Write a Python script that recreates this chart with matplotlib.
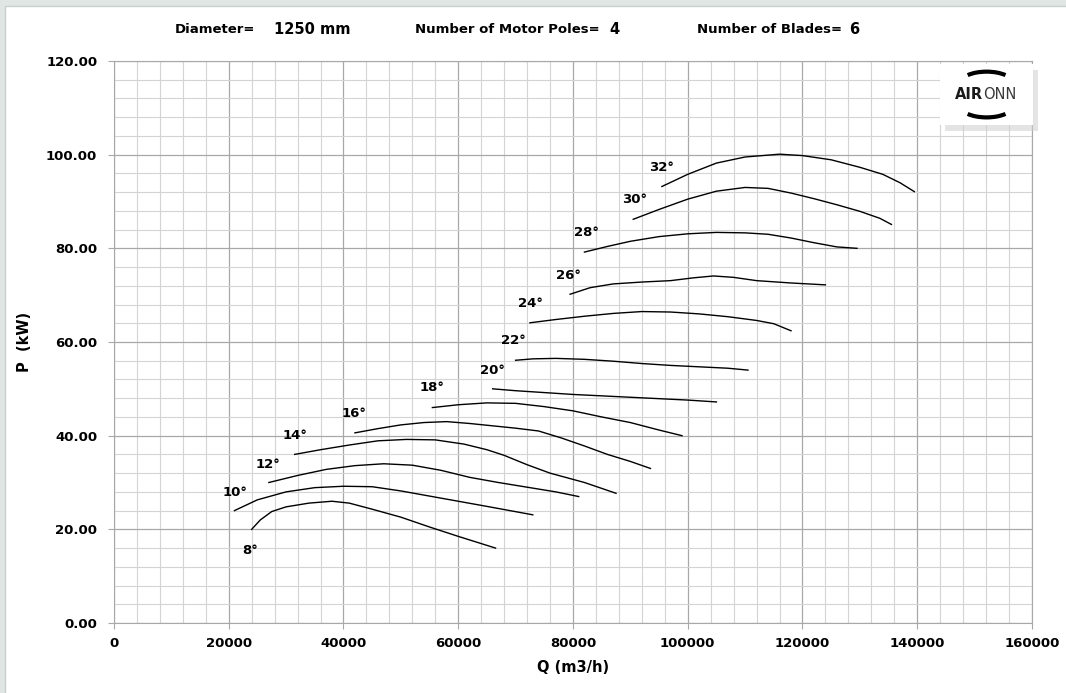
import numpy as np
import matplotlib.pyplot as plt
from matplotlib.patches import FancyBboxPatch, Arc
from matplotlib.ticker import MultipleLocator, FormatStrFormatter

# Blade angle curves: Q (m3/h) vs P (kW)
q8 = [24000, 25500, 27500, 30000, 34000, 38000, 41000, 45000, 50000, 55000, 60000, 66500]
p8 = [20.0, 22.0, 23.8, 24.8, 25.6, 26.0, 25.6, 24.3, 22.6, 20.5, 18.5, 16.0]
q10 = [21000, 25000, 30000, 35000, 40000, 45000, 50000, 55000, 60000, 65000, 73000]
p10 = [24.0, 26.3, 28.0, 28.9, 29.2, 29.1, 28.2, 27.1, 26.0, 24.9, 23.1]
q12 = [27000, 32000, 37000, 42000, 47000, 52000, 57000, 62000, 67000, 72000, 77000, 81000]
p12 = [30.0, 31.5, 32.8, 33.6, 34.0, 33.7, 32.6, 31.1, 30.0, 29.0, 28.0, 27.0]
q14 = [31500, 36000, 41000, 46000, 51000, 56000, 61000, 65000, 68000, 72000, 76000, 82000, 87500]
p14 = [36.0, 37.0, 38.0, 38.9, 39.2, 39.1, 38.2, 37.0, 35.8, 33.8, 32.0, 30.0, 27.7]
q16 = [42000, 46000, 50000, 54000, 58000, 62000, 66000, 70000, 74000, 78000, 82000, 86000, 90000, 93500]
p16 = [40.6, 41.5, 42.3, 42.8, 43.0, 42.6, 42.1, 41.6, 41.0, 39.5, 37.8, 36.0, 34.5, 33.0]
q18 = [55500, 60000, 65000, 70000, 75000, 80000, 85000, 90000, 95000, 99000]
p18 = [46.0, 46.6, 47.0, 46.9, 46.2, 45.3, 44.0, 42.8, 41.2, 40.0]
q20 = [66000, 70000, 75000, 80000, 85000, 90000, 95000, 100000, 105000]
p20 = [50.0, 49.6, 49.2, 48.8, 48.5, 48.2, 47.9, 47.6, 47.2]
q22 = [70000, 73000, 77000, 82000, 87000, 92000, 97000, 102000, 107000, 110500]
p22 = [56.1, 56.4, 56.5, 56.3, 55.9, 55.4, 55.0, 54.7, 54.4, 54.0]
q24 = [72500, 77000, 82000, 87000, 92000, 97000, 102000, 107000, 112000, 115000, 118000]
p24 = [64.1, 64.8, 65.5, 66.1, 66.5, 66.4, 66.0, 65.4, 64.6, 63.9, 62.4]
q26 = [79500, 83000, 87000, 92000, 97000, 101000, 104500, 108000, 112000, 118000, 124000]
p26 = [70.2, 71.6, 72.4, 72.8, 73.1, 73.7, 74.1, 73.8, 73.1, 72.6, 72.2]
q28 = [82000, 86000, 90000, 95000, 100000, 105000, 110000, 114000, 118000, 122000, 126000, 129500]
p28 = [79.2, 80.4, 81.5, 82.5, 83.1, 83.4, 83.3, 83.0, 82.2, 81.2, 80.3, 80.0]
q30 = [90500, 95000, 100000, 105000, 110000, 114000, 118000, 122000, 126000, 130000, 133500, 135500]
p30 = [86.2, 88.3, 90.5, 92.2, 93.0, 92.8, 91.8, 90.6, 89.3, 87.9, 86.4, 85.1]
q32 = [95500, 100000, 105000, 110000, 116000, 120000, 125000, 130000, 134000, 137000, 139500]
p32 = [93.2, 95.8, 98.2, 99.5, 100.1, 99.8, 98.9, 97.3, 95.8, 94.0, 92.1]

angles = ["8°", "10°", "12°", "14°", "16°", "18°", "20°", "22°", "24°", "26°", "28°", "30°", "32°"]
curves_q = [q8, q10, q12, q14, q16, q18, q20, q22, q24, q26, q28, q30, q32]
curves_p = [p8, p10, p12, p14, p16, p18, p20, p22, p24, p26, p28, p30, p32]
# label anchor points
label_q = [23800, 21100, 26900, 31500, 41800, 55400, 65900, 69600, 72500, 79200, 82300, 90700, 95500]
label_p = [15.4, 27.9, 33.9, 40.1, 44.8, 50.2, 54.0, 60.4, 68.3, 74.3, 83.4, 90.4, 97.3]

fig = plt.figure(figsize=(10.66, 6.93), dpi=100)
fig.patch.set_facecolor("#dfe6e3")
# white panel behind everything
fig.patches.append(FancyBboxPatch((0.005, -0.01), 1.0, 1.002, boxstyle="square,pad=0",
                                  transform=fig.transFigure, facecolor="white",
                                  edgecolor="#c8cfcc", linewidth=1.0, zorder=-10))

ax = fig.add_axes([0.1069, 0.101, 0.8612, 0.811])
ax.set_facecolor("white")
for q, p in zip(curves_q, curves_p):
    ax.plot(q, p, color="black", linewidth=1.0, zorder=3)
for lbl, x, y in zip(angles, label_q, label_p):
    ax.text(x, y, lbl, ha="center", va="center", fontsize=9.5, fontweight="bold", zorder=4)

ax.set_xlim(0, 160000)
ax.set_ylim(0, 120)
ax.xaxis.set_major_locator(MultipleLocator(20000))
ax.xaxis.set_minor_locator(MultipleLocator(4000))
ax.yaxis.set_major_locator(MultipleLocator(20))
ax.yaxis.set_minor_locator(MultipleLocator(4))
ax.yaxis.set_major_formatter(FormatStrFormatter("%.2f"))
ax.grid(which="major", color="#a8a8a8", linewidth=0.9)
ax.grid(which="minor", color="#d4d4d4", linewidth=0.8)
ax.set_axisbelow(True)
for s in ax.spines.values():
    s.set_color("#a8a8a8")
ax.tick_params(which="major", length=4, color="#a8a8a8", labelsize=9.5)
ax.tick_params(axis="x", pad=6)
ax.tick_params(axis="y", pad=8)
ax.tick_params(which="minor", length=0)
for t in ax.get_xticklabels() + ax.get_yticklabels():
    t.set_fontweight("bold")
ax.set_xlabel("Q (m3/h)", fontsize=10.5, fontweight="bold", labelpad=7)
ax.set_ylabel("P  (kW)", fontsize=10.5, fontweight="bold", labelpad=10)

# header
fig.text(0.164, 0.958, "Diameter=", fontsize=9.5, fontweight="bold", va="center")
fig.text(0.257, 0.958, "1250 mm", fontsize=10.5, fontweight="bold", va="center")
fig.text(0.389, 0.958, "Number of Motor Poles=", fontsize=9.5, fontweight="bold", va="center")
fig.text(0.572, 0.958, "4", fontsize=10.5, fontweight="bold", va="center")
fig.text(0.654, 0.958, "Number of Blades=", fontsize=9.5, fontweight="bold", va="center")
fig.text(0.797, 0.958, "6", fontsize=10.5, fontweight="bold", va="center")

# logo
lax = fig.add_axes([0.882, 0.8196, 0.087, 0.088])
lax.set_xlim(0, 1)
lax.set_ylim(0, 1)
lax.axis("off")
lax.add_patch(FancyBboxPatch((0.05, -0.1), 1.0, 1.0, boxstyle="square,pad=0",
                             facecolor="#cfcfcf", edgecolor="none", alpha=0.55, clip_on=False))
lax.add_patch(FancyBboxPatch((0, 0), 1.0, 1.0, boxstyle="square,pad=0",
                             facecolor="white", edgecolor="none", clip_on=False))
lax.text(0.46, 0.5, "AIR", fontsize=10.5, fontweight="bold", ha="right", va="center", color="#1a1a1a")
lax.text(0.46, 0.5, "ONN", fontsize=10.5, ha="left", va="center", color="#3a3a3a")
lax.add_patch(Arc((0.5, 0.70), 0.55, 0.35, theta1=30, theta2=150, color="black", linewidth=3))
lax.add_patch(Arc((0.5, 0.30), 0.55, 0.35, theta1=210, theta2=330, color="black", linewidth=3))

plt.savefig("out.png", dpi=100, facecolor=fig.get_facecolor())
